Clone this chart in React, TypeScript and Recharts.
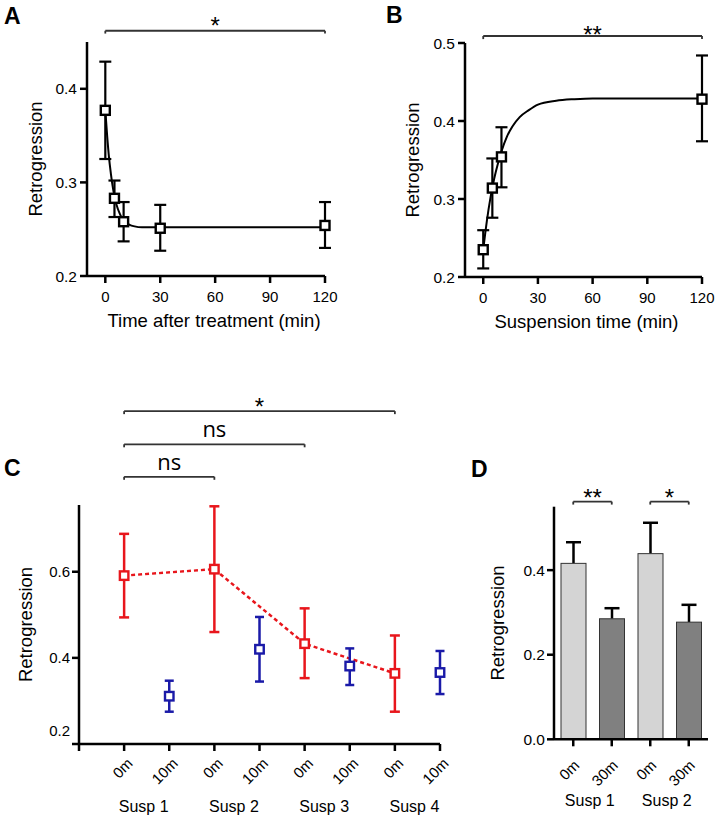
import React from "react"
import {
  Bar,
  Cell,
  ComposedChart,
  ErrorBar,
  Line,
  ReferenceLine,
  Scatter,
  XAxis,
  YAxis,
} from "recharts"

const FONT = "'Liberation Sans', Arial, sans-serif"
const NS_FONT = "'Open Sans', 'Noto Sans', sans-serif"
const AXIS = { stroke: "#000", strokeWidth: 2.5 }
const BRACKET_COLOR = "#333"
const RED = "#e8161c"
const BLUE = "#1a1aa8"
const D_FILLS = ["#d4d4d4", "#808080", "#d4d4d4", "#808080"]

// panel A: retrogression after treatment
const A_TIME = [0, 5, 10, 30, 120]
const A_MEAN = [0.377, 0.283, 0.258, 0.251, 0.254]
const A_LOW = [0.325, 0.263, 0.237, 0.227, 0.23]
const A_HIGH = [0.429, 0.302, 0.279, 0.276, 0.279]
const A_FIT_T = [0, 1, 2, 3, 4, 5, 6, 8, 10, 13, 16, 20, 30, 60, 120]
const A_FIT = [0.377, 0.35, 0.327, 0.31, 0.296, 0.285, 0.277, 0.266, 0.259, 0.255, 0.253, 0.252, 0.252, 0.252, 0.252]

// panel B: retrogression vs suspension time
const B_TIME = [0, 5, 10, 120]
const B_MEAN = [0.235, 0.314, 0.354, 0.428]
const B_LOW = [0.211, 0.276, 0.315, 0.374]
const B_HIGH = [0.26, 0.352, 0.392, 0.484]
const B_FIT_T = [0, 2, 4, 6, 8, 10, 13, 16, 20, 25, 30, 40, 50, 60, 120]
const B_FIT = [0.235, 0.272, 0.302, 0.326, 0.345, 0.361, 0.38, 0.393, 0.405, 0.414, 0.421, 0.426, 0.428, 0.429, 0.429]

const TIME_TICKS = [0, 30, 60, 90, 120]

// panel C: successive suspensions
const C_LABELS = ["0m", "10m", "0m", "10m", "0m", "10m", "0m", "10m"]
const C_GROUPS = ["Susp 1", "Susp 2", "Susp 3", "Susp 4"]
const C_RED_POS = [0, 2, 4, 6]
const C_RED_MEAN = [0.591, 0.606, 0.433, 0.364]
const C_RED_LOW = [0.494, 0.46, 0.353, 0.275]
const C_RED_HIGH = [0.688, 0.752, 0.515, 0.452]
const C_BLUE_POS = [1, 3, 5, 7]
const C_BLUE_MEAN = [0.311, 0.42, 0.381, 0.366]
const C_BLUE_LOW = [0.275, 0.345, 0.337, 0.316]
const C_BLUE_HIGH = [0.347, 0.495, 0.422, 0.416]
const C_TICKS = [-1, 0, 1, 2, 3, 4, 5, 6, 7]

// panel D: bars
const D_KEYS = ["s1-0m", "s1-30m", "s2-0m", "s2-30m"]
const D_LABELS = ["0m", "30m", "0m", "30m"]
const D_GROUPS = ["Susp 1", "Susp 2"]
const D_MEAN = [0.416, 0.285, 0.439, 0.277]
const D_SEM = [0.05, 0.025, 0.073, 0.041]

const points = (xs: number[], mean: number[], low: number[], high: number[]) =>
  xs.map((x, i) => ({ x, y: mean[i], err: [mean[i] - low[i], high[i] - mean[i]] }))

const curve = (xs: number[], ys: number[]) => xs.map((x, i) => ({ x, y: ys[i] }))

const dData = D_KEYS.map((key, i) => ({ key, y: D_MEAN[i], sem: D_SEM[i] }))

const square = (color: string, size: number) => (props: any) => {
  const { cx, cy } = props
  if (cx == null || cy == null) return <g key={props.index} />
  return (
    <rect
      key={props.index}
      x={cx - size / 2}
      y={cy - size / 2}
      width={size}
      height={size}
      fill="#fff"
      stroke={color}
      strokeWidth={2.4}
    />
  )
}

// bar with a one-sided (upward) SEM whisker, scaled from the bar's own height
function SemBar(props: any) {
  const { x, y, width, height, payload, index } = props
  const top = y - (height * payload.sem) / payload.y
  const cx = x + width / 2
  return (
    <g>
      <line x1={cx} x2={cx} y1={y} y2={top} stroke="#000" strokeWidth={2.5} />
      <line x1={cx - 7.5} x2={cx + 7.5} y1={top} y2={top} stroke="#000" strokeWidth={2.5} />
      <rect x={x} y={y} width={width} height={height} fill={D_FILLS[index]} stroke="#333" strokeWidth={1} />
    </g>
  )
}

const yTick = (fontSize: number, liftFirst = 0) => (props: any) => {
  const { x, y, payload, index } = props
  return (
    <text
      x={x}
      y={y - (index === 0 ? liftFirst : 0)}
      dy="0.36em"
      textAnchor="end"
      fontSize={fontSize}
      fontFamily={FONT}
      fill="#000"
    >
      {Number(payload.value).toFixed(1)}
    </text>
  )
}

function bracket(
  id: string,
  from: number | string,
  to: number | string,
  level: number,
  drop: number,
  label: string,
  labelProps: Record<string, unknown>
) {
  const common = { ifOverflow: "visible" as const, stroke: BRACKET_COLOR, strokeWidth: 1.8 }
  return [
    <ReferenceLine
      key={id + "-h"}
      {...common}
      segment={[{ x: from, y: level }, { x: to, y: level }]}
      label={{ value: label, position: "top", fill: "#000", ...labelProps }}
    />,
    <ReferenceLine key={id + "-l"} {...common} segment={[{ x: from, y: level }, { x: from, y: level - drop }]} />,
    <ReferenceLine key={id + "-r"} {...common} segment={[{ x: to, y: level }, { x: to, y: level - drop }]} />,
  ]
}

const starLabel = (offset: number) => ({ fontSize: 24, fontFamily: FONT, offset })
const nsLabel = (offset: number) => ({ fontSize: 22, fontFamily: NS_FONT, offset })

const yLabel = (offset: number, dx: number) => ({
  value: "Retrogression",
  angle: -90,
  position: "insideLeft" as const,
  offset,
  dx,
  fontSize: 18.5,
  fontFamily: FONT,
  fill: "#000",
  style: { textAnchor: "middle" },
})

function CTick(props: any) {
  const { x, y, payload } = props
  const v = payload.value
  if (v < 0) return <g />
  const ax = x + 9.5
  const ay = y + 13.5
  return (
    <g>
      <text
        x={ax}
        y={ay}
        textAnchor="end"
        transform={`rotate(-45, ${ax}, ${ay})`}
        fontSize={15}
        fontFamily={FONT}
        fill="#000"
      >
        {C_LABELS[v]}
      </text>
      {v % 2 === 0 && (
        <text x={x + 19.5} y={y + 61} textAnchor="middle" fontSize={16} fontFamily={FONT} fill="#000">
          {C_GROUPS[v / 2]}
        </text>
      )}
    </g>
  )
}

function DTick(props: any) {
  const { x, y, payload } = props
  const i = D_KEYS.indexOf(payload.value)
  const ax = x + 7
  const ay = y + 20
  return (
    <g>
      <text
        x={ax}
        y={ay}
        textAnchor="end"
        transform={`rotate(-45, ${ax}, ${ay})`}
        fontSize={15}
        fontFamily={FONT}
        fill="#000"
      >
        {D_LABELS[i]}
      </text>
      {i % 2 === 0 && (
        <text x={x + 16.5} y={y + 60} textAnchor="middle" fontSize={16} fontFamily={FONT} fill="#000">
          {D_GROUPS[i / 2]}
        </text>
      )}
    </g>
  )
}

function TimePanel(props: {
  width: number
  height: number
  left: number
  right: number
  top: number
  bottom: number
  domain: [number, number]
  ticks: number[]
  pts: ReturnType<typeof points>
  fit: ReturnType<typeof curve>
  title: string
  titleDx: number
  yLabelOffset: number
  brackets: React.ReactNode
}) {
  const { width, height, left, right, top, bottom, domain, ticks, pts, fit } = props
  const xAxisHeight = 33
  return (
    <ComposedChart
      width={width}
      height={height}
      margin={{ top, right: width - right, left: 0, bottom: height - bottom - xAxisHeight }}
    >
      <XAxis
        dataKey="x"
        type="number"
        domain={[-10, 120]}
        ticks={TIME_TICKS}
        height={xAxisHeight}
        axisLine={AXIS}
        tickLine={AXIS}
        tickSize={7}
        tickMargin={8}
        tick={{ fill: "#000", fontSize: 15, fontFamily: FONT }}
        label={{
          value: props.title,
          position: "bottom",
          offset: 5,
          dx: props.titleDx,
          fontSize: 18.5,
          fontFamily: FONT,
          fill: "#000",
        }}
      />
      <YAxis
        type="number"
        width={left}
        domain={domain}
        ticks={ticks}
        axisLine={AXIS}
        tickLine={AXIS}
        tickSize={7}
        tickMargin={3}
        tick={yTick(15.5)}
        label={yLabel(props.yLabelOffset, 6)}
      />
      {props.brackets}
      <Line
        data={fit}
        dataKey="y"
        type="monotone"
        stroke="#000"
        strokeWidth={2}
        dot={false}
        isAnimationActive={false}
      />
      <Scatter data={pts} dataKey="y" shape={square("#000", 9)} isAnimationActive={false}>
        <ErrorBar dataKey="err" direction="y" width={6} stroke="#000" strokeWidth={2.2} isAnimationActive={false} />
      </Scatter>
    </ComposedChart>
  )
}

function PanelC() {
  const width = 470
  const height = 454
  const top = 135
  const bottom = 374
  const xAxisHeight = 60
  return (
    <ComposedChart
      width={width}
      height={height}
      margin={{ top, right: width - 440, left: 0, bottom: height - bottom - xAxisHeight }}
    >
      <XAxis
        dataKey="x"
        type="number"
        domain={[-1, 7]}
        ticks={C_TICKS}
        interval={0}
        height={xAxisHeight}
        axisLine={AXIS}
        tickLine={AXIS}
        tickSize={7}
        tickMargin={0}
        tick={CTick}
      />
      <YAxis
        type="number"
        width={79}
        domain={[0.2, 0.755]}
        ticks={[0.2, 0.4, 0.6]}
        axisLine={AXIS}
        tickLine={AXIS}
        tickSize={7}
        tickMargin={2}
        tick={yTick(15, 13)}
        label={yLabel(22, 3)}
      />
      {bracket("c3", 0, 6, 0.973, 0.007, "*", starLabel(-3.7))}
      {bracket("c2", 0, 4, 0.896, 0.007, "ns", nsLabel(7.5))}
      {bracket("c1", 0, 2, 0.8205, 0.007, "ns", nsLabel(7))}
      <Line
        data={points(C_RED_POS, C_RED_MEAN, C_RED_LOW, C_RED_HIGH)}
        dataKey="y"
        type="linear"
        stroke={RED}
        strokeWidth={2.5}
        strokeDasharray="4 3"
        dot={square(RED, 8.5)}
        activeDot={false}
        isAnimationActive={false}
      >
        <ErrorBar dataKey="err" direction="y" width={5} stroke={RED} strokeWidth={2.5} isAnimationActive={false} />
      </Line>
      <Scatter
        data={points(C_BLUE_POS, C_BLUE_MEAN, C_BLUE_LOW, C_BLUE_HIGH)}
        dataKey="y"
        shape={square(BLUE, 8.5)}
        isAnimationActive={false}
      >
        <ErrorBar dataKey="err" direction="y" width={4.5} stroke={BLUE} strokeWidth={2.5} isAnimationActive={false} />
      </Scatter>
    </ComposedChart>
  )
}

function PanelD() {
  const width = 235
  const height = 454
  const top = 136.7
  const bottom = 369.3
  const xAxisHeight = 60
  return (
    <ComposedChart
      width={width}
      height={height}
      data={dData}
      margin={{ top, right: width - 228, left: 0, bottom: height - bottom - xAxisHeight }}
    >
      <XAxis
        dataKey="key"
        type="category"
        interval={0}
        height={xAxisHeight}
        axisLine={AXIS}
        tickLine={AXIS}
        tickSize={7}
        tickMargin={0}
        tick={DTick}
      />
      <YAxis
        type="number"
        width={74}
        domain={[0, 0.55]}
        ticks={[0, 0.2, 0.4]}
        axisLine={AXIS}
        tickLine={AXIS}
        tickSize={7}
        tickMargin={2}
        tick={yTick(15.5)}
        label={yLabel(14, 3)}
      />
      {bracket("d1", D_KEYS[0], D_KEYS[1], 0.562, 0.007, "**", starLabel(-4))}
      {bracket("d2", D_KEYS[2], D_KEYS[3], 0.562, 0.007, "*", starLabel(-4))}
      <Bar dataKey="y" barSize={25} shape={SemBar} isAnimationActive={false}>
        {D_KEYS.map((k, i) => (
          <Cell key={k} fill={D_FILLS[i]} />
        ))}
      </Bar>
    </ComposedChart>
  )
}

export default function App() {
  return (
    <div
      style={{
        position: "absolute",
        left: 0,
        top: 0,
        width: 715,
        height: 824,
        background: "#fff",
        fontFamily: FONT,
      }}
    >
      <div style={{ position: "absolute", left: 0, top: 0 }}>
        <TimePanel
          width={360}
          height={340}
          left={87}
          right={325}
          top={42}
          bottom={276}
          domain={[0.2, 0.45]}
          ticks={[0.2, 0.3, 0.4]}
          pts={points(A_TIME, A_MEAN, A_LOW, A_HIGH)}
          fit={curve(A_FIT_T, A_FIT)}
          title="Time after treatment (min)"
          titleDx={8}
          yLabelOffset={29}
          brackets={bracket("a", 0, 120, 0.462, 0.003, "*", starLabel(-3.3))}
        />
      </div>
      <div style={{ position: "absolute", left: 360, top: 0 }}>
        <TimePanel
          width={355}
          height={340}
          left={105}
          right={342}
          top={43}
          bottom={277}
          domain={[0.2, 0.5]}
          ticks={[0.2, 0.3, 0.4, 0.5]}
          pts={points(B_TIME, B_MEAN, B_LOW, B_HIGH)}
          fit={curve(B_FIT_T, B_FIT)}
          title="Suspension time (min)"
          titleDx={3}
          yLabelOffset={46}
          brackets={bracket("b", 0, 120, 0.509, 0.004, "**", starLabel(-7))}
        />
      </div>
      <div style={{ position: "absolute", left: 0, top: 370 }}>
        <PanelC />
      </div>
      <div style={{ position: "absolute", left: 480, top: 370 }}>
        <PanelD />
      </div>
      <svg
        width={715}
        height={824}
        style={{ position: "absolute", left: 0, top: 0, pointerEvents: "none" }}
      >
        <g fontFamily={FONT} fontWeight="bold" fontSize={23} fill="#000">
          <text x={4} y={24}>A</text>
          <text x={386} y={23}>B</text>
          <text x={4} y={476}>C</text>
          <text x={471} y={477}>D</text>
        </g>
      </svg>
    </div>
  )
}
